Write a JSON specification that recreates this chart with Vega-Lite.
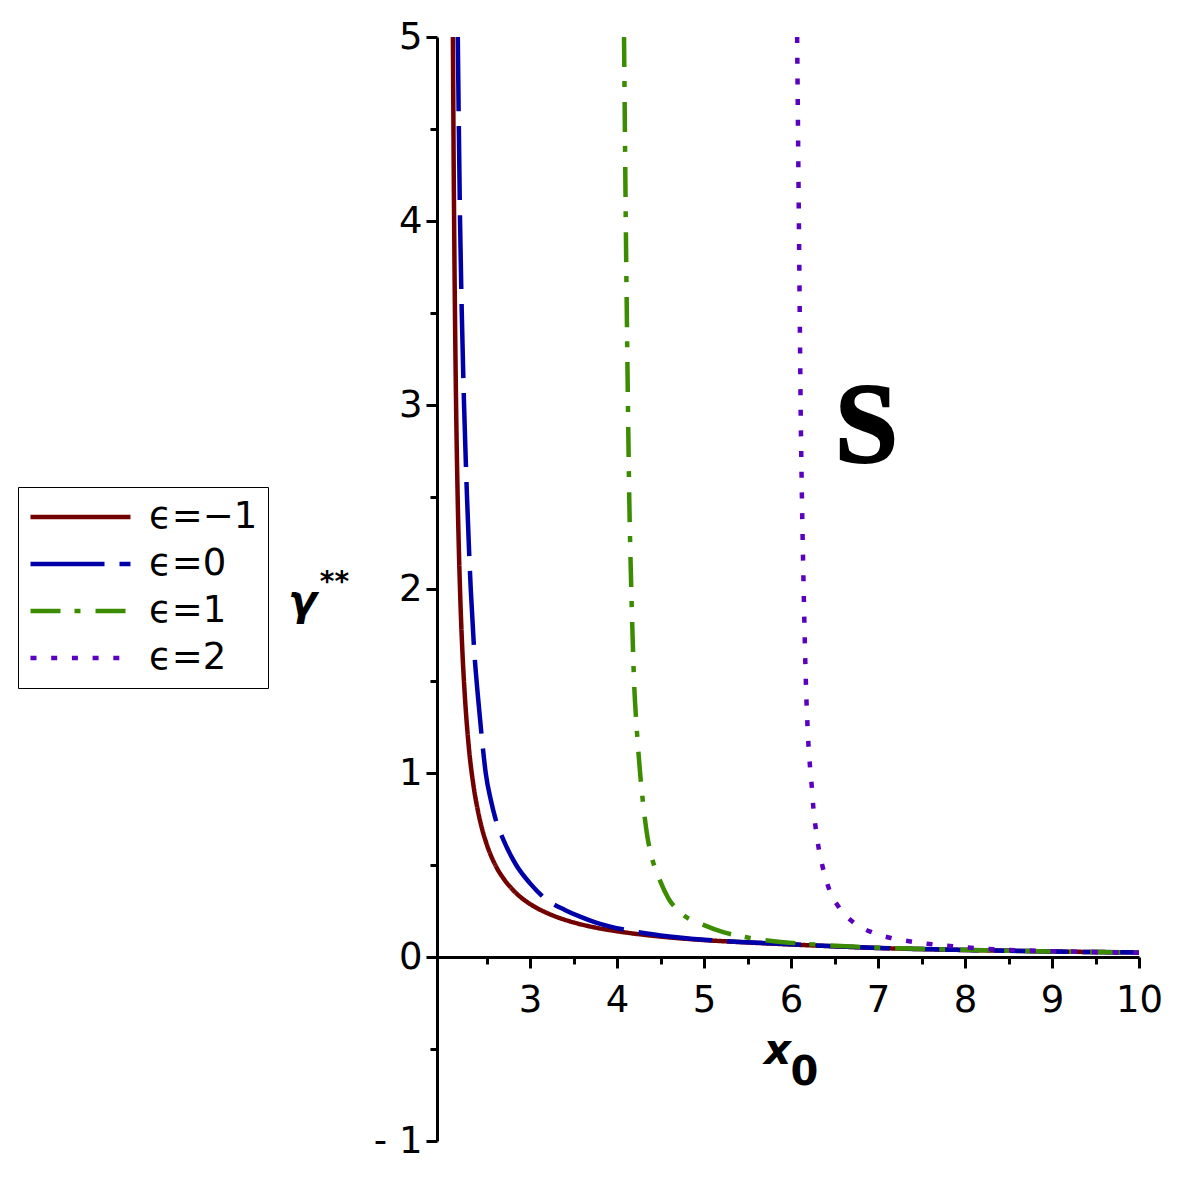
{
  "$schema": "https://vega.github.io/schema/vega-lite/v6.json",
  "width": 702,
  "height": 1104,
  "autosize": {"type": "none"},
  "padding": {"left": 437, "top": 37, "right": 42, "bottom": 40},
  "background": "white",
  "config": {"view": {"stroke": null}, "font": "DejaVu Sans"},
  "datasets": {
    "curves": [
      {"eps": "ϵ=−1", "x": 2.113, "y": 5.0},
      {"eps": "ϵ=−1", "x": 2.12, "y": 4.43},
      {"eps": "ϵ=−1", "x": 2.13, "y": 3.82},
      {"eps": "ϵ=−1", "x": 2.14, "y": 3.35},
      {"eps": "ϵ=−1", "x": 2.15, "y": 2.98},
      {"eps": "ϵ=−1", "x": 2.165, "y": 2.56},
      {"eps": "ϵ=−1", "x": 2.18, "y": 2.24},
      {"eps": "ϵ=−1", "x": 2.2, "y": 1.92},
      {"eps": "ϵ=−1", "x": 2.225, "y": 1.63},
      {"eps": "ϵ=−1", "x": 2.25, "y": 1.42},
      {"eps": "ϵ=−1", "x": 2.3, "y": 1.12},
      {"eps": "ϵ=−1", "x": 2.35, "y": 0.93},
      {"eps": "ϵ=−1", "x": 2.4, "y": 0.795},
      {"eps": "ϵ=−1", "x": 2.45, "y": 0.693},
      {"eps": "ϵ=−1", "x": 2.5, "y": 0.615},
      {"eps": "ϵ=−1", "x": 2.6, "y": 0.5},
      {"eps": "ϵ=−1", "x": 2.7, "y": 0.423},
      {"eps": "ϵ=−1", "x": 2.8, "y": 0.366},
      {"eps": "ϵ=−1", "x": 2.9, "y": 0.322},
      {"eps": "ϵ=−1", "x": 3.0, "y": 0.288},
      {"eps": "ϵ=−1", "x": 3.25, "y": 0.228},
      {"eps": "ϵ=−1", "x": 3.5, "y": 0.188},
      {"eps": "ϵ=−1", "x": 3.75, "y": 0.16},
      {"eps": "ϵ=−1", "x": 4.0, "y": 0.14},
      {"eps": "ϵ=−1", "x": 4.5, "y": 0.111},
      {"eps": "ϵ=−1", "x": 5.0, "y": 0.092},
      {"eps": "ϵ=−1", "x": 5.5, "y": 0.079},
      {"eps": "ϵ=−1", "x": 6.0, "y": 0.068},
      {"eps": "ϵ=−1", "x": 6.5, "y": 0.058},
      {"eps": "ϵ=−1", "x": 7.0, "y": 0.049},
      {"eps": "ϵ=−1", "x": 7.5, "y": 0.043},
      {"eps": "ϵ=−1", "x": 8.0, "y": 0.038},
      {"eps": "ϵ=−1", "x": 8.5, "y": 0.034},
      {"eps": "ϵ=−1", "x": 9.0, "y": 0.03},
      {"eps": "ϵ=−1", "x": 9.5, "y": 0.027},
      {"eps": "ϵ=−1", "x": 10.0, "y": 0.025},

      {"eps": "ϵ=0", "x": 2.169, "y": 5.0},
      {"eps": "ϵ=0", "x": 2.18, "y": 4.55},
      {"eps": "ϵ=0", "x": 2.195, "y": 4.0},
      {"eps": "ϵ=0", "x": 2.215, "y": 3.5},
      {"eps": "ϵ=0", "x": 2.241, "y": 3.0},
      {"eps": "ϵ=0", "x": 2.275, "y": 2.5},
      {"eps": "ϵ=0", "x": 2.318, "y": 2.0},
      {"eps": "ϵ=0", "x": 2.36, "y": 1.65},
      {"eps": "ϵ=0", "x": 2.4, "y": 1.42},
      {"eps": "ϵ=0", "x": 2.45, "y": 1.17},
      {"eps": "ϵ=0", "x": 2.49, "y": 1.0},
      {"eps": "ϵ=0", "x": 2.55, "y": 0.85},
      {"eps": "ϵ=0", "x": 2.6, "y": 0.755},
      {"eps": "ϵ=0", "x": 2.7, "y": 0.63},
      {"eps": "ϵ=0", "x": 2.84, "y": 0.5},
      {"eps": "ϵ=0", "x": 3.0, "y": 0.4},
      {"eps": "ϵ=0", "x": 3.18, "y": 0.315},
      {"eps": "ϵ=0", "x": 3.4, "y": 0.256},
      {"eps": "ϵ=0", "x": 3.575, "y": 0.219},
      {"eps": "ϵ=0", "x": 3.75, "y": 0.188},
      {"eps": "ϵ=0", "x": 3.9, "y": 0.168},
      {"eps": "ϵ=0", "x": 4.1, "y": 0.147},
      {"eps": "ϵ=0", "x": 4.5, "y": 0.117},
      {"eps": "ϵ=0", "x": 5.0, "y": 0.094},
      {"eps": "ϵ=0", "x": 5.5, "y": 0.08},
      {"eps": "ϵ=0", "x": 6.0, "y": 0.069},
      {"eps": "ϵ=0", "x": 6.5, "y": 0.058},
      {"eps": "ϵ=0", "x": 7.0, "y": 0.049},
      {"eps": "ϵ=0", "x": 7.5, "y": 0.043},
      {"eps": "ϵ=0", "x": 8.0, "y": 0.038},
      {"eps": "ϵ=0", "x": 8.5, "y": 0.034},
      {"eps": "ϵ=0", "x": 9.0, "y": 0.03},
      {"eps": "ϵ=0", "x": 9.5, "y": 0.027},
      {"eps": "ϵ=0", "x": 10.0, "y": 0.025},

      {"eps": "ϵ=1", "x": 4.08, "y": 5.0},
      {"eps": "ϵ=1", "x": 4.09, "y": 4.5},
      {"eps": "ϵ=1", "x": 4.1, "y": 4.0},
      {"eps": "ϵ=1", "x": 4.112, "y": 3.5},
      {"eps": "ϵ=1", "x": 4.125, "y": 3.0},
      {"eps": "ϵ=1", "x": 4.14, "y": 2.5},
      {"eps": "ϵ=1", "x": 4.158, "y": 2.1},
      {"eps": "ϵ=1", "x": 4.175, "y": 1.8},
      {"eps": "ϵ=1", "x": 4.195, "y": 1.5},
      {"eps": "ϵ=1", "x": 4.225, "y": 1.25},
      {"eps": "ϵ=1", "x": 4.265, "y": 1.0},
      {"eps": "ϵ=1", "x": 4.31, "y": 0.79},
      {"eps": "ϵ=1", "x": 4.35, "y": 0.65},
      {"eps": "ϵ=1", "x": 4.4, "y": 0.54},
      {"eps": "ϵ=1", "x": 4.476, "y": 0.436},
      {"eps": "ϵ=1", "x": 4.59, "y": 0.319},
      {"eps": "ϵ=1", "x": 4.74, "y": 0.237},
      {"eps": "ϵ=1", "x": 5.0, "y": 0.173},
      {"eps": "ϵ=1", "x": 5.22, "y": 0.135},
      {"eps": "ϵ=1", "x": 5.45, "y": 0.11},
      {"eps": "ϵ=1", "x": 5.8, "y": 0.086},
      {"eps": "ϵ=1", "x": 6.18, "y": 0.071},
      {"eps": "ϵ=1", "x": 6.57, "y": 0.06},
      {"eps": "ϵ=1", "x": 7.14, "y": 0.049},
      {"eps": "ϵ=1", "x": 7.5, "y": 0.044},
      {"eps": "ϵ=1", "x": 8.0, "y": 0.039},
      {"eps": "ϵ=1", "x": 8.5, "y": 0.034},
      {"eps": "ϵ=1", "x": 9.0, "y": 0.03},
      {"eps": "ϵ=1", "x": 9.5, "y": 0.027},
      {"eps": "ϵ=1", "x": 10.0, "y": 0.025},

      {"eps": "ϵ=2", "x": 6.07, "y": 5.0},
      {"eps": "ϵ=2", "x": 6.08, "y": 4.5},
      {"eps": "ϵ=2", "x": 6.09, "y": 4.0},
      {"eps": "ϵ=2", "x": 6.1, "y": 3.5},
      {"eps": "ϵ=2", "x": 6.11, "y": 3.0},
      {"eps": "ϵ=2", "x": 6.125, "y": 2.5},
      {"eps": "ϵ=2", "x": 6.145, "y": 2.0},
      {"eps": "ϵ=2", "x": 6.17, "y": 1.5},
      {"eps": "ϵ=2", "x": 6.195, "y": 1.2},
      {"eps": "ϵ=2", "x": 6.218, "y": 1.034},
      {"eps": "ϵ=2", "x": 6.24, "y": 0.917},
      {"eps": "ϵ=2", "x": 6.257, "y": 0.808},
      {"eps": "ϵ=2", "x": 6.285, "y": 0.696},
      {"eps": "ϵ=2", "x": 6.32, "y": 0.585},
      {"eps": "ϵ=2", "x": 6.37, "y": 0.477},
      {"eps": "ϵ=2", "x": 6.437, "y": 0.37},
      {"eps": "ϵ=2", "x": 6.55, "y": 0.27},
      {"eps": "ϵ=2", "x": 6.72, "y": 0.187},
      {"eps": "ϵ=2", "x": 6.93, "y": 0.134},
      {"eps": "ϵ=2", "x": 7.15, "y": 0.103},
      {"eps": "ϵ=2", "x": 7.39, "y": 0.083},
      {"eps": "ϵ=2", "x": 7.62, "y": 0.069},
      {"eps": "ϵ=2", "x": 7.86, "y": 0.058},
      {"eps": "ϵ=2", "x": 8.1, "y": 0.049},
      {"eps": "ϵ=2", "x": 8.34, "y": 0.042},
      {"eps": "ϵ=2", "x": 8.57, "y": 0.037},
      {"eps": "ϵ=2", "x": 8.81, "y": 0.034},
      {"eps": "ϵ=2", "x": 9.05, "y": 0.031},
      {"eps": "ϵ=2", "x": 9.29, "y": 0.029},
      {"eps": "ϵ=2", "x": 9.52, "y": 0.026},
      {"eps": "ϵ=2", "x": 9.76, "y": 0.025},
      {"eps": "ϵ=2", "x": 10.0, "y": 0.023}
    ]
  },
  "resolve": {"axis": {"x": "independent", "y": "independent"}},
  "layer": [
    {
      "data": {"name": "curves"},
      "mark": {"type": "line", "clip": true, "strokeCap": "butt", "interpolate": "monotone"},
      "encoding": {
        "x": {
          "field": "x", "type": "quantitative",
          "scale": {"domain": [1.93, 10], "nice": false, "zero": false},
          "axis": {
            "orient": "bottom", "offset": -184,
            "values": [2.5, 3, 3.5, 4, 4.5, 5, 5.5, 6, 6.5, 7, 7.5, 8, 8.5, 9, 9.5, 10],
            "labelExpr": "datum.value % 1 == 0 ? format(datum.value, 'd') : ''",
            "tickSize": {"condition": {"test": "datum.value % 1 == 0", "value": 11}, "value": 7},
            "tickWidth": 3, "tickColor": "black", "domainColor": "black", "domainWidth": 3,
            "labelFont": "DejaVu Sans", "labelFontSize": 37, "labelColor": "black", "labelPadding": 14,
            "grid": false, "labelFlush": false, "labelOverlap": false, "labelBound": false,
            "title": "x", "titleFont": "DejaVu Sans", "titleFontSize": 42, "titleFontWeight": "bold",
            "titleFontStyle": "italic", "titleColor": "black", "titleAngle": 0,
            "titleX": 340, "titleY": 106, "titleAlign": "center", "titleBaseline": "alphabetic"
          }
        },
        "y": {
          "field": "y", "type": "quantitative",
          "scale": {"domain": [-1, 5], "nice": false, "zero": false},
          "axis": {
            "orient": "left",
            "values": [-1, -0.5, 0, 0.5, 1, 1.5, 2, 2.5, 3, 3.5, 4, 4.5, 5],
            "labelExpr": "datum.value == -1 ? '- 1' : (datum.value % 1 == 0 ? format(datum.value, 'd') : '')",
            "tickSize": {"condition": {"test": "datum.value % 1 == 0", "value": 11}, "value": 7},
            "tickWidth": 3, "tickColor": "black", "domainColor": "black", "domainWidth": 3,
            "labelFont": "DejaVu Sans", "labelFontSize": 37, "labelColor": "black", "labelPadding": 4,
            "grid": false, "labelFlush": false, "labelOverlap": false, "labelBound": false,
            "title": "γ", "titleFont": "DejaVu Sans", "titleFontSize": 42, "titleFontWeight": "bold",
            "titleFontStyle": "italic", "titleColor": "black", "titleAngle": 0,
            "titleX": -135, "titleY": 577, "titleAlign": "center", "titleBaseline": "alphabetic"
          }
        },
        "color": {
          "field": "eps", "type": "nominal",
          "scale": {"domain": ["ϵ=−1", "ϵ=0", "ϵ=1", "ϵ=2"], "range": ["#730000", "#0000AA", "#3C8C00", "#5A00C0"]},
          "legend": {
            "title": null, "orient": "none", "legendX": -419, "legendY": 450,
            "symbolType": "stroke", "symbolSize": 10000, "symbolStrokeWidth": 4.5, "clipHeight": 40, "rowPadding": 7,
            "labelFont": "DejaVu Sans", "labelFontSize": 37, "labelColor": "black", "labelOffset": 16,
            "strokeColor": "black", "fillColor": "white", "padding": 10
          }
        },
        "strokeDash": {
          "field": "eps", "type": "nominal",
          "scale": {"domain": ["ϵ=−1", "ϵ=0", "ϵ=1", "ϵ=2"], "range": [[1, 0], [74, 15], [30, 14, 6, 15], [6, 14.7]]},
          "legend": {
            "title": null, "orient": "none", "legendX": -419, "legendY": 450,
            "symbolType": "stroke", "symbolSize": 10000, "symbolStrokeWidth": 4.5, "clipHeight": 40, "rowPadding": 7,
            "labelFont": "DejaVu Sans", "labelFontSize": 37, "labelColor": "black", "labelOffset": 16,
            "strokeColor": "black", "fillColor": "white", "padding": 10
          }
        },
        "strokeWidth": {
          "field": "eps", "type": "nominal",
          "scale": {"domain": ["ϵ=−1", "ϵ=0", "ϵ=1", "ϵ=2"], "range": [4.5, 4.5, 4.5, 6]},
          "legend": null
        }
      }
    },
    {
      "data": {"values": [{}]},
      "mark": {"type": "text", "font": "Liberation Serif", "fontWeight": "bold", "fontSize": 114, "align": "center", "baseline": "alphabetic", "color": "black", "stroke": "black", "strokeWidth": 2},
      "encoding": {
        "x": {
          "datum": 6.867, "type": "quantitative",
          "axis": {
            "orient": "bottom", "offset": -184, "domain": false, "ticks": false, "labels": false, "grid": false,
            "title": "0", "titleFont": "DejaVu Sans", "titleFontSize": 40, "titleFontWeight": "bold", "titleColor": "black",
            "titleAngle": 0, "titleX": 367, "titleY": 127, "titleAlign": "center", "titleBaseline": "alphabetic"
          }
        },
        "y": {
          "datum": 2.69, "type": "quantitative",
          "axis": {
            "orient": "left", "domain": false, "ticks": false, "labels": false, "grid": false,
            "title": "**", "titleFont": "DejaVu Sans", "titleFontSize": 28, "titleFontWeight": "bold", "titleColor": "black",
            "titleAngle": 0, "titleX": -103, "titleY": 553, "titleAlign": "center", "titleBaseline": "alphabetic"
          }
        },
        "text": {"value": "S"}
      }
    }
  ]
}
